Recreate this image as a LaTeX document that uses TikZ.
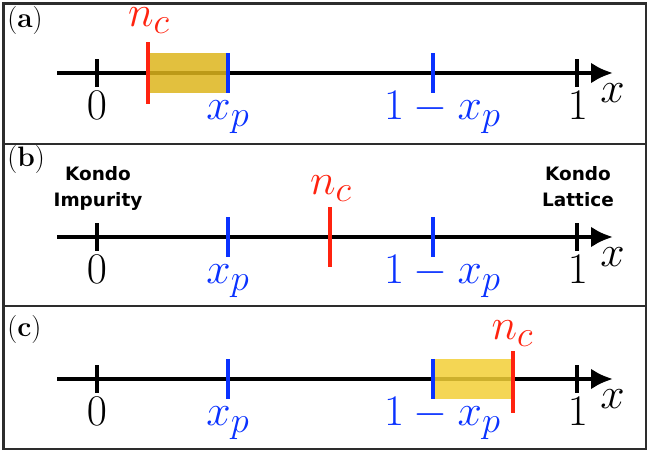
\documentclass[tikz,border=0pt]{standalone}
\usepackage{xcolor}
\usepackage{fontspec}
\newfontfamily\kondofont{DejaVu Sans}
\usetikzlibrary{arrows.meta}
\definecolor{ncred}{RGB}{255,35,15}
\definecolor{xpblue}{RGB}{10,50,255}
\definecolor{framegray}{RGB}{45,45,45}
\definecolor{wingoldA}{RGB}{221,181,28}
\definecolor{wingoldC}{RGB}{242,207,54}
\tikzstyle{axis}=[line width=2.6pt,-{Latex[length=0.44cm,width=0.42cm]}]
\tikzstyle{blacktick}=[line width=2.4pt]
\tikzstyle{xptick}=[line width=2.2pt,color=xpblue]
\tikzstyle{nctick}=[line width=2.6pt,color=ncred]
\tikzstyle{ticklabel}=[anchor=base,inner sep=0pt,font=\Huge]
\tikzstyle{panel}=[anchor=base west,inner sep=0pt,font=\fontsize{16}{19}\selectfont]
\tikzstyle{kondo}=[anchor=north,align=center,inner sep=0pt,font=\kondofont\bfseries\fontsize{10.5}{14.8}\selectfont]
\tikzstyle{window}=[fill opacity=0.85]

\begin{document}
\begin{tikzpicture}
  \useasboundingbox (0,0) rectangle (12.98,9.04);
  %% frame
  \draw[line width=1.2pt,framegray] (0.07,0.06) rectangle (12.92,8.97);
  \draw[line width=1.2pt,framegray] (0.07,6.16) -- (12.92,6.16);
  \draw[line width=1.2pt,framegray] (0.07,2.92) -- (12.92,2.92);

  %% (a)
  \draw (0.14,8.48) node[panel] (pa) {(\textbf{a})};
  \coordinate (A0) at (1.14,7.58);
  \coordinate (A1) at (12.26,7.58);
  \draw[axis] (A0) -- (A1);
  \fill[window,wingoldA] (2.96,7.18) rectangle (4.56,7.98);
  \draw[blacktick] (1.94,7.30) -- (1.94,7.86);
  \draw[blacktick] (11.54,7.30) -- (11.54,7.86);
  \draw[xptick] (4.56,7.18) -- (4.56,7.98);
  \draw[xptick] (8.66,7.18) -- (8.66,7.98);
  \draw[nctick] (2.96,6.96) -- (2.96,8.20);
  \draw (1.94,6.64) node[ticklabel] (a0) {$0$};
  \draw (4.56,6.64) node[ticklabel,text=xpblue] (axp) {$x_p$};
  \draw (8.85,6.64) node[ticklabel,text=xpblue] (aonexp) {$1-x_p$};
  \draw (11.56,6.64) node[ticklabel] (a1) {$1$};
  \draw (12.25,6.98) node[ticklabel] (ax) {$x$};
  \draw (2.98,8.50) node[ticklabel,text=ncred] (anc) {$n_c$};

  %% (b)
  \draw (0.14,5.70) node[panel] (pb) {(\textbf{b})};
  \coordinate (B0) at (1.14,4.30);
  \coordinate (B1) at (12.26,4.30);
  \draw[axis] (B0) -- (B1);
  \draw[blacktick] (1.94,4.02) -- (1.94,4.58);
  \draw[blacktick] (11.54,4.02) -- (11.54,4.58);
  \draw[xptick] (4.56,3.90) -- (4.56,4.70);
  \draw[xptick] (8.66,3.90) -- (8.66,4.70);
  \draw[nctick] (6.60,3.70) -- (6.60,4.90);
  \draw (1.94,3.36) node[ticklabel] (b0) {$0$};
  \draw (4.56,3.36) node[ticklabel,text=xpblue] (bxp) {$x_p$};
  \draw (8.85,3.36) node[ticklabel,text=xpblue] (bonexp) {$1-x_p$};
  \draw (11.56,3.36) node[ticklabel] (b1) {$1$};
  \draw (12.25,3.70) node[ticklabel] (bx) {$x$};
  \draw (6.62,5.14) node[ticklabel,text=ncred] (bnc) {$n_c$};
  \draw (1.96,5.71) node[kondo] (imp) {Kondo\\Impurity};
  \draw (11.56,5.71) node[kondo] (lat) {Kondo\\Lattice};

  %% (c)
  \draw (0.14,2.30) node[panel] (pc) {(\textbf{c})};
  \coordinate (C0) at (1.14,1.46);
  \coordinate (C1) at (12.26,1.46);
  \draw[axis] (C0) -- (C1);
  \fill[window,wingoldC] (8.66,1.06) rectangle (10.26,1.86);
  \draw[blacktick] (1.94,1.18) -- (1.94,1.74);
  \draw[blacktick] (11.54,1.18) -- (11.54,1.74);
  \draw[xptick] (4.56,1.06) -- (4.56,1.86);
  \draw[xptick] (8.66,1.06) -- (8.66,1.86);
  \draw[nctick] (10.26,0.78) -- (10.26,2.02);
  \draw (1.94,0.52) node[ticklabel] (c0) {$0$};
  \draw (4.56,0.52) node[ticklabel,text=xpblue] (cxp) {$x_p$};
  \draw (8.85,0.52) node[ticklabel,text=xpblue] (conexp) {$1-x_p$};
  \draw (11.56,0.52) node[ticklabel] (c1) {$1$};
  \draw (12.25,0.86) node[ticklabel] (cx) {$x$};
  \draw (10.25,2.24) node[ticklabel,text=ncred] (cnc) {$n_c$};
\end{tikzpicture}
\end{document}
